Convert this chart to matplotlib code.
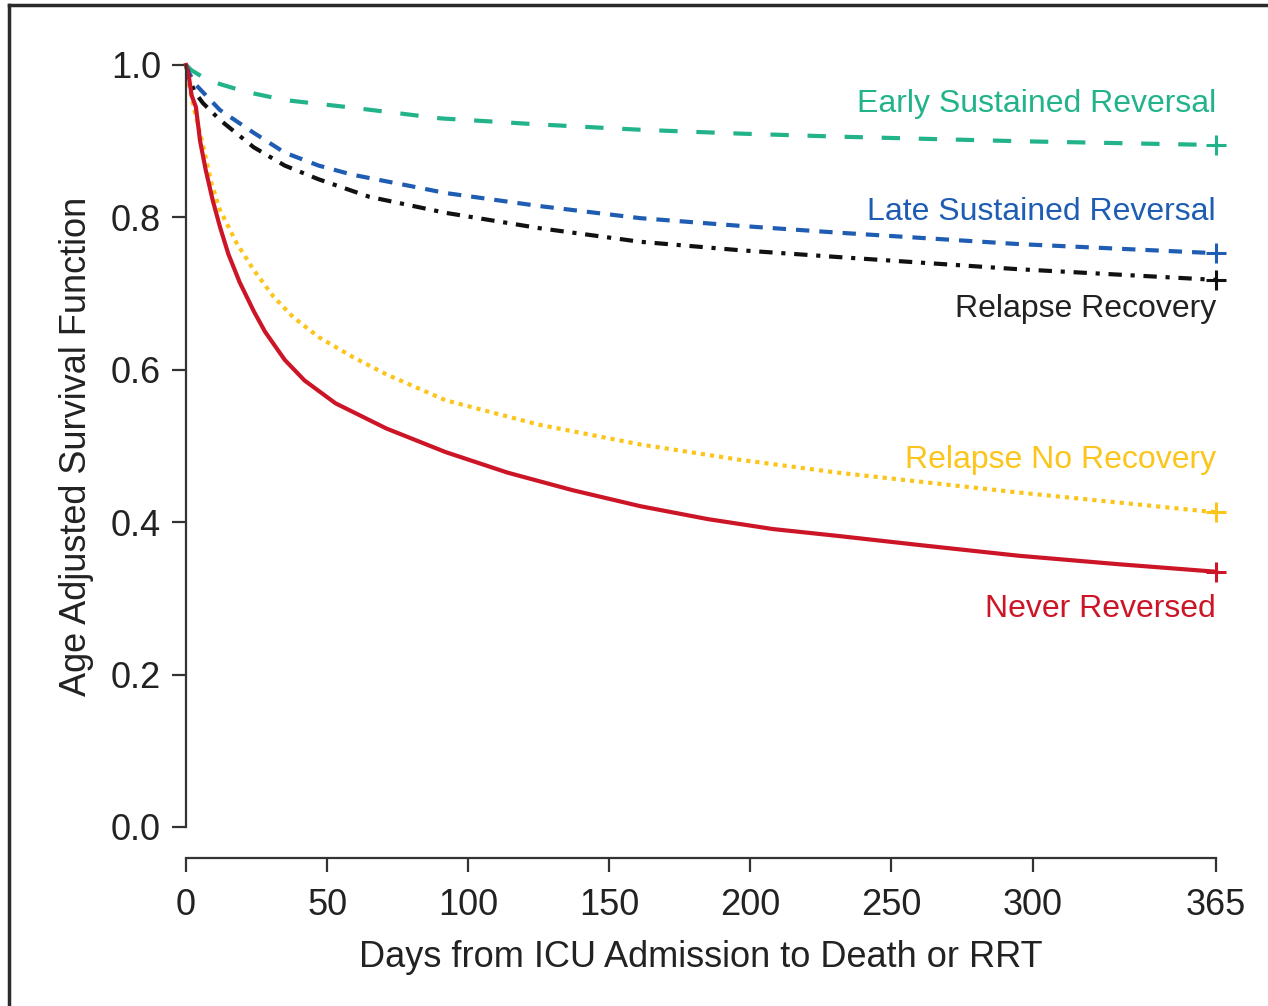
import numpy as np
import matplotlib
matplotlib.use('Agg')
import matplotlib.pyplot as plt
from matplotlib.lines import Line2D

plt.rcParams['font.family'] = ['Liberation Sans', 'DejaVu Sans']

# curves (days, survival)
early_days = [0, 2, 6, 12, 21, 35, 59, 90, 125, 161, 196, 231, 295, 365]
early_surv = [1.0, 0.993, 0.984, 0.975, 0.965, 0.954, 0.944, 0.930, 0.922, 0.915, 0.910, 0.906, 0.900, 0.895]

late_days = [0, 1, 3.5, 12, 24, 35, 47, 59, 77, 92, 125, 161, 196, 231, 295, 365]
late_surv = [1.0, 0.99, 0.974, 0.941, 0.911, 0.885, 0.868, 0.856, 0.843, 0.832, 0.815, 0.799, 0.789, 0.780, 0.765, 0.753]

relrec_days = [0, 1, 3, 6, 12, 24, 35, 47, 65, 92, 125, 161, 196, 231, 295, 365]
relrec_surv = [1.0, 0.985, 0.965, 0.950, 0.928, 0.892, 0.868, 0.850, 0.827, 0.806, 0.786, 0.768, 0.757, 0.748, 0.732, 0.718]

relnorec_days = [0, 1, 3, 6, 9, 12, 18, 24, 31, 38, 47, 59, 71, 92, 125, 161, 196, 231, 295, 365]
relnorec_surv = [1.0, 0.975, 0.94, 0.895, 0.845, 0.81, 0.766, 0.731, 0.696, 0.669, 0.643, 0.617, 0.594, 0.560, 0.528, 0.502, 0.482, 0.465, 0.439, 0.413]

never_days = [0, 1, 2, 3.5, 5, 7, 9.5, 12, 15, 19, 24, 28, 35, 42, 53, 71, 92, 114, 137, 161, 185, 208, 231, 260, 295, 330, 365]
never_surv = [1.0, 0.985, 0.96, 0.945, 0.90, 0.862, 0.822, 0.788, 0.752, 0.715, 0.677, 0.650, 0.613, 0.586, 0.556, 0.523, 0.492, 0.465, 0.442, 0.421, 0.404, 0.391, 0.382, 0.370, 0.356, 0.345, 0.335]

labels = ['Early Sustained Reversal', 'Late Sustained Reversal', 'Relapse Recovery',
          'Relapse No Recovery', 'Never Reversed']
label_y = [0.938, 0.797, 0.669, 0.471, 0.276]

x_ticks = [0, 50, 100, 150, 200, 250, 300, 365]
y_ticks = [0.0, 0.2, 0.4, 0.6, 0.8, 1.0]

teal = '#22b38b'
blue = '#1f5db3'
black = '#111111'
gold = '#fcc51c'
red = '#cc1628'

fig = plt.figure(figsize=(12.68, 10.06), dpi=100)
ax = fig.add_axes([186/1268, 1-827/1006, 1030/1268, 762/1006])

series = [
    (early_days, early_surv, teal, dict(dashes=(4.4, 4.5))),
    (late_days, late_surv, blue, dict(dashes=(3.2, 2.4))),
    (relrec_days, relrec_surv, black, dict(dashes=(3.2, 2.1, 1, 2.1))),
    (relnorec_days, relnorec_surv, gold, dict(dashes=(1, 1.2))),
    (never_days, never_surv, red, dict(linestyle='-')),
]
for d, s, c, st in series:
    ax.plot(d, s, color=c, lw=3.0, clip_on=False, **st)
    ax.plot(d[-1], s[-1], marker='+', ms=15, mew=2.2, color=c, clip_on=False)

txt_col = [teal, blue, '#222222', gold, red]
for lab, yy, c in zip(labels, label_y, txt_col):
    ax.text(365, yy, lab, color=c, fontsize=23, ha='right', va='baseline')

ax.set_xlim(0, 365)
ax.set_ylim(0, 1)
for sp in ['top', 'right']:
    ax.spines[sp].set_visible(False)
ax.spines['bottom'].set_position(('outward', 22))
ax.spines['bottom'].set_bounds(0, 365)
ax.spines['left'].set_bounds(0, 1)
for sp in ['bottom', 'left']:
    ax.spines[sp].set_linewidth(1.6)
    ax.spines[sp].set_color('#333333')

ax.set_xticks(x_ticks)
ax.set_yticks(y_ticks)
ax.set_yticklabels(['%.1f' % v for v in y_ticks])
ax.tick_params(axis='both', length=10, width=1.6, color='#333333', labelsize=26,
               labelcolor='#222222')
ax.tick_params(axis='x', pad=12)
ax.tick_params(axis='y', pad=8)

ax.set_xlabel('Days from ICU Admission to Death or RRT', fontsize=26, color='#222222', labelpad=12)
ax.set_ylabel('Age Adjusted Survival Function', fontsize=26, color='#222222', labelpad=12)

# outer frame (left and top edges visible in the reference)
fig.add_artist(Line2D([9/1268, 9/1268], [0, 1-5/1006], color='#2a2a2a', lw=2.5))
fig.add_artist(Line2D([9/1268, 1], [1-5/1006, 1-5/1006], color='#2a2a2a', lw=2.5))

fig.savefig('out.png', dpi=100)
